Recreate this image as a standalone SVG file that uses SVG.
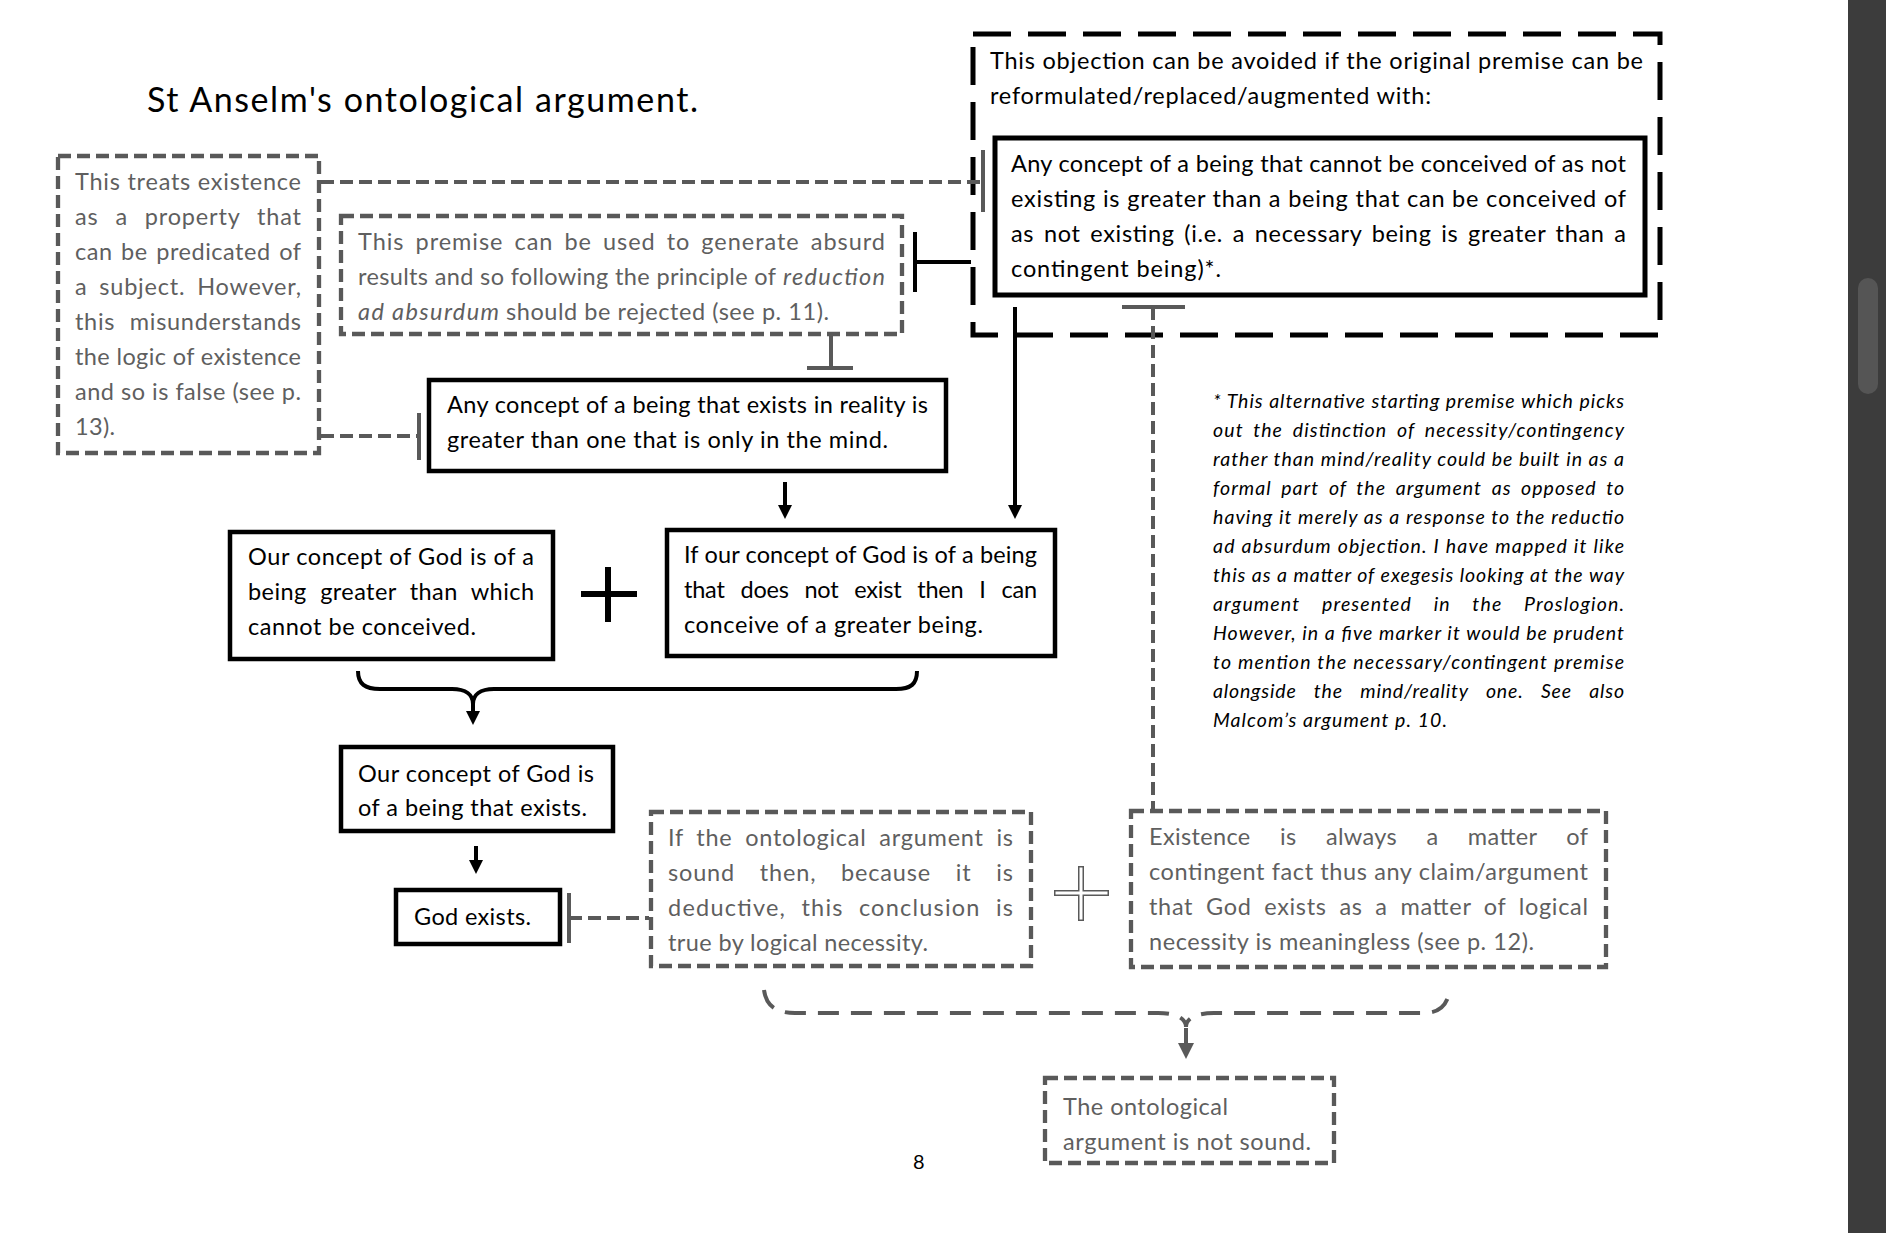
<svg xmlns="http://www.w3.org/2000/svg" width="1886" height="1233" viewBox="0 0 1886 1233">
<style>
.t{font-family:Lato,"Liberation Sans",sans-serif;font-size:23.5px;fill:#000}
.g{fill:#5f5f5f}
.it{font-style:italic;font-size:19.5px}
.bx{fill:#fff;stroke:#000;stroke-width:4.5}
.gbx{fill:#fff;stroke:#595959;stroke-width:4.3;stroke-dasharray:13 6}
.gl{fill:none;stroke:#595959;stroke-width:4}
.gd{fill:none;stroke:#595959;stroke-width:4;stroke-dasharray:13 6}
.bl{fill:none;stroke:#000;stroke-width:4}
</style>
<defs>
<marker id="ah" markerUnits="userSpaceOnUse" markerWidth="14" markerHeight="14" refX="4" refY="7" orient="auto"><path d="M0,0 L14,7 L0,14 z" fill="#000"/></marker>
<marker id="ahg" markerUnits="userSpaceOnUse" markerWidth="16" markerHeight="16" refX="5" refY="8" orient="auto"><path d="M0,0 L16,8 L0,16 z" fill="#595959"/></marker>
</defs>
<rect width="1886" height="1233" fill="#fff"/>
<rect x="1848" y="0" width="38" height="1233" fill="#3c3c3c"/>
<rect x="1858" y="278" width="20" height="116" rx="10" fill="#555"/>

<text class="t" x="147" y="112" textLength="551" style="font-size:34px">St Anselm's ontological argument.</text>

<g id="objection-box">
<rect x="973" y="34" width="687" height="301" fill="none" stroke="#000" stroke-width="5" stroke-dasharray="38 17"/>
<text class="t" x="990" y="69" textLength="653">This objection can be avoided if the original premise can be</text>
<text class="t" x="990" y="104" textLength="441">reformulated/replaced/augmented with:</text>
</g>

<g id="connectors">
<path class="gd" d="M321,182 H983"/>
<path class="gl" d="M983,150 V212"/>
<path class="gd" d="M321,436 H419"/>
<path class="gl" d="M419,413 V460"/>
<path class="bl" d="M915,232 V292 M915,262 H971"/>
<path class="gl" d="M831,336 V368 M807,368 H853"/>
<path class="bl" d="M785,482 V509" marker-end="url(#ah)"/>
<path class="bl" d="M1015,307 V509" marker-end="url(#ah)"/>
<path class="bl" d="M358,671 C358,684 365,689 380,689 H452 C466,689 473,695 473,704 C473,695 480,689 494,689 H896 C911,689 917,684 917,671"/>
<path class="bl" d="M473,703 V715" marker-end="url(#ah)"/>
<path class="bl" d="M476,846 V864" marker-end="url(#ah)"/>
<path class="gl" d="M569,893 V943"/>
<path class="gd" d="M569,918 H649"/>
<path class="gl" d="M1122,307 H1185"/>
<path class="gd" d="M1153,307 V809"/>
<path fill="none" stroke="#595959" stroke-width="4" stroke-dasharray="21 12" d="M764,990 C766,1005 775,1013 795,1013 H1158 C1175,1013 1186,1018 1186,1027 C1186,1018 1197,1013 1214,1013 H1424 C1440,1013 1448,1005 1450,988"/>
<path class="gl" d="M1186,1028 V1048" marker-end="url(#ahg)"/>
<path fill="none" stroke="#000" stroke-width="6" d="M581,594 H637 M608,567 V622"/>
<path fill="none" stroke="#595959" stroke-width="6" d="M1054,893 H1109 M1081,866 V921"/>
<path fill="none" stroke="#fff" stroke-width="3" d="M1055.5,893 H1107.5 M1081,867.5 V919.5"/>
</g>

<g id="existence-property">
<rect class="gbx" x="58" y="156" width="261" height="297"/>
<text class="t g" x="75" y="190" textLength="226">This treats existence</text>
<text class="t g" x="75" y="225" textLength="226" word-spacing="10">as a property that</text>
<text class="t g" x="75" y="260" textLength="226" word-spacing="2">can be predicated of</text>
<text class="t g" x="75" y="295" textLength="226" word-spacing="5">a subject. However,</text>
<text class="t g" x="75" y="330" textLength="226" word-spacing="8">this misunderstands</text>
<text class="t g" x="75" y="365" textLength="226">the logic of existence</text>
<text class="t g" x="75" y="400" textLength="226">and so is false (see p.</text>
<text class="t g" x="75" y="435" textLength="40">13).</text>
</g>

<g id="reductio">
<rect class="gbx" x="341" y="216" width="561" height="118"/>
<text class="t g" x="358" y="250" textLength="527" word-spacing="4">This premise can be used to generate absurd</text>
<text class="t g" x="358" y="285" textLength="418">results and so following the principle of</text>
<text class="t g it" x="783" y="285" textLength="102" style="font-size:23.5px">reduction</text>
<text class="t g it" x="358" y="320" textLength="141" style="font-size:23.5px">ad absurdum</text>
<text class="t g" x="506" y="320" textLength="323">should be rejected (see p. 11).</text>
</g>

<g id="necessary-premise">
<rect x="995" y="138" width="650" height="157" fill="#fff" stroke="#000" stroke-width="5"/>
<text class="t" x="1011" y="172" textLength="615">Any concept of a being that cannot be conceived of as not</text>
<text class="t" x="1011" y="207" textLength="615">existing is greater than a being that can be conceived of</text>
<text class="t" x="1011" y="242" textLength="615" word-spacing="3">as not existing (i.e. a necessary being is greater than a</text>
<text class="t" x="1011" y="277" textLength="210">contingent being)*.</text>
</g>

<g id="reality-premise">
<rect class="bx" x="429" y="380" width="517" height="91"/>
<text class="t" x="447" y="413" textLength="481">Any concept of a being that exists in reality is</text>
<text class="t" x="447" y="448" textLength="441">greater than one that is only in the mind.</text>
</g>

<g id="note">
<text class="t it" x="1213" y="408" textLength="411">* This alternative starting premise which picks</text>
<text class="t it" x="1213" y="437" textLength="411" word-spacing="4">out the distinction of necessity/contingency</text>
<text class="t it" x="1213" y="466" textLength="411">rather than mind/reality could be built in as a</text>
<text class="t it" x="1213" y="495" textLength="411" word-spacing="4">formal part of the argument as opposed to</text>
<text class="t it" x="1213" y="524" textLength="411">having it merely as a response to the reductio</text>
<text class="t it" x="1213" y="553" textLength="411">ad absurdum objection. I have mapped it like</text>
<text class="t it" x="1213" y="582" textLength="411">this as a matter of exegesis looking at the way</text>
<text class="t it" x="1213" y="611" textLength="411" word-spacing="16">argument presented in the Proslogion.</text>
<text class="t it" x="1213" y="640" textLength="411">However, in a five marker it would be prudent</text>
<text class="t it" x="1213" y="669" textLength="411">to mention the necessary/contingent premise</text>
<text class="t it" x="1213" y="698" textLength="411" word-spacing="12">alongside the mind/reality one. See also</text>
<text class="t it" x="1213" y="727" textLength="234">Malcom’s argument p. 10.</text>
</g>

<g id="god-concept">
<rect class="bx" x="230" y="532" width="323" height="127"/>
<text class="t" x="248" y="565" textLength="286">Our concept of God is of a</text>
<text class="t" x="248" y="600" textLength="286" word-spacing="7">being greater than which</text>
<text class="t" x="248" y="635" textLength="228">cannot be conceived.</text>
</g>

<g id="greater-being">
<rect class="bx" x="667" y="530" width="388" height="126"/>
<text class="t" x="684" y="563" textLength="353">If our concept of God is of a being</text>
<text class="t" x="684" y="598" textLength="353" word-spacing="10">that does not exist then I can</text>
<text class="t" x="684" y="633" textLength="299">conceive of a greater being.</text>
</g>

<g id="god-concept-exists">
<rect class="bx" x="341" y="747" width="272" height="84"/>
<text class="t" x="358" y="782" textLength="236">Our concept of God is</text>
<text class="t" x="358" y="816" textLength="229">of a being that exists.</text>
</g>

<g id="god-exists">
<rect class="bx" x="396" y="890" width="164" height="54"/>
<text class="t" x="414" y="925" textLength="117">God exists.</text>
</g>

<g id="logical-necessity">
<rect class="gbx" x="651" y="812" width="380" height="154"/>
<text class="t g" x="668" y="846" textLength="345" word-spacing="6">If the ontological argument is</text>
<text class="t g" x="668" y="881" textLength="345" word-spacing="18">sound then, because it is</text>
<text class="t g" x="668" y="916" textLength="345" word-spacing="8">deductive, this conclusion is</text>
<text class="t g" x="668" y="951" textLength="260">true by logical necessity.</text>
</g>

<g id="contingent-existence">
<rect class="gbx" x="1131" y="811" width="475" height="156"/>
<text class="t g" x="1149" y="845" textLength="439" word-spacing="23">Existence is always a matter of</text>
<text class="t g" x="1149" y="880" textLength="439">contingent fact thus any claim/argument</text>
<text class="t g" x="1149" y="915" textLength="439" word-spacing="6">that God exists as a matter of logical</text>
<text class="t g" x="1149" y="950" textLength="385">necessity is meaningless (see p. 12).</text>
</g>

<g id="not-sound">
<rect class="gbx" x="1045" y="1078" width="289" height="85"/>
<text class="t g" x="1063" y="1115" textLength="165">The ontological</text>
<text class="t g" x="1063" y="1150" textLength="248">argument is not sound.</text>
</g>

<text class="t" x="913" y="1169" style="font-size:20px">8</text>
</svg>
